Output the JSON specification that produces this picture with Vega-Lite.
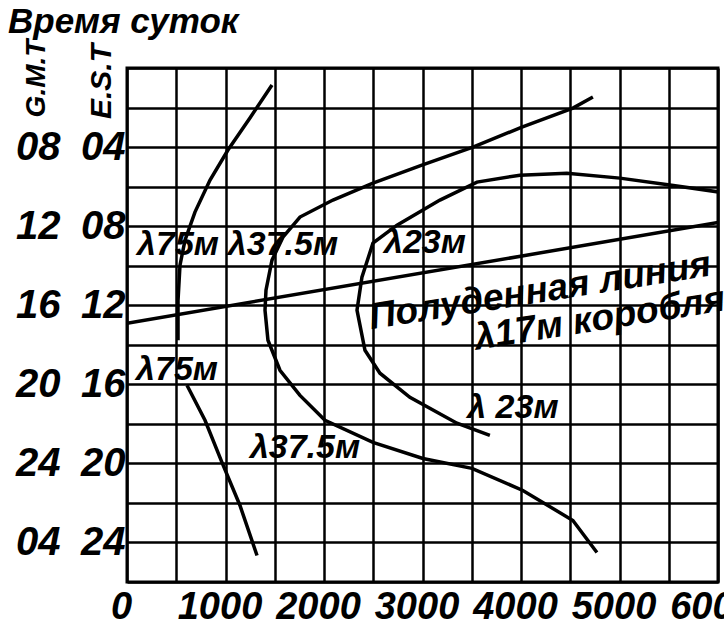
{
  "$schema": "https://vega.github.io/schema/vega-lite/v6.json",
  "width": 591,
  "height": 514,
  "autosize": "none",
  "padding": {"left": 127, "top": 68, "right": 6, "bottom": 44},
  "background": "white",
  "config": {
    "font": "Liberation Sans, sans-serif",
    "view": {"stroke": "black", "strokeWidth": 3}
  },
  "title": {
    "text": "Время суток",
    "anchor": "start",
    "frame": "group",
    "font": "Liberation Sans, sans-serif",
    "fontSize": 35,
    "fontStyle": "italic",
    "fontWeight": "bold",
    "color": "black",
    "dx": -119,
    "dy": 33,
    "baseline": "alphabetic"
  },
  "datasets": {
    "curves": [
      {"curve": "l75", "seg": "a", "i": 1, "d": 1472, "t": 0.86},
      {"curve": "l75", "seg": "a", "i": 2, "d": 1248, "t": 2.53},
      {"curve": "l75", "seg": "a", "i": 3, "d": 1025, "t": 4.15},
      {"curve": "l75", "seg": "a", "i": 4, "d": 843, "t": 5.67},
      {"curve": "l75", "seg": "a", "i": 5, "d": 690, "t": 7.29},
      {"curve": "l75", "seg": "a", "i": 6, "d": 589, "t": 8.71},
      {"curve": "l75", "seg": "a", "i": 7, "d": 538, "t": 9.97},
      {"curve": "l75", "seg": "a", "i": 8, "d": 518, "t": 11.75},
      {"curve": "l75", "seg": "a", "i": 9, "d": 518, "t": 13.77},
      {"curve": "l75", "seg": "b", "i": 1, "d": 609, "t": 16.05},
      {"curve": "l75", "seg": "b", "i": 2, "d": 792, "t": 17.82},
      {"curve": "l75", "seg": "b", "i": 3, "d": 964, "t": 19.95},
      {"curve": "l75", "seg": "b", "i": 4, "d": 1147, "t": 22.13},
      {"curve": "l75", "seg": "b", "i": 5, "d": 1320, "t": 24.66},
      {"curve": "l37", "seg": "a", "i": 1, "d": 4730, "t": 1.47},
      {"curve": "l37", "seg": "a", "i": 2, "d": 4527, "t": 2.03},
      {"curve": "l37", "seg": "a", "i": 3, "d": 4009, "t": 2.99},
      {"curve": "l37", "seg": "a", "i": 4, "d": 3512, "t": 4.0},
      {"curve": "l37", "seg": "a", "i": 5, "d": 2994, "t": 4.91},
      {"curve": "l37", "seg": "a", "i": 6, "d": 2497, "t": 5.82},
      {"curve": "l37", "seg": "a", "i": 7, "d": 2091, "t": 6.68},
      {"curve": "l37", "seg": "a", "i": 8, "d": 1756, "t": 7.54},
      {"curve": "l37", "seg": "a", "i": 9, "d": 1583, "t": 8.56},
      {"curve": "l37", "seg": "a", "i": 10, "d": 1472, "t": 9.72},
      {"curve": "l37", "seg": "a", "i": 11, "d": 1411, "t": 11.24},
      {"curve": "l37", "seg": "a", "i": 12, "d": 1401, "t": 12.25},
      {"curve": "l37", "seg": "a", "i": 13, "d": 1431, "t": 13.77},
      {"curve": "l37", "seg": "a", "i": 14, "d": 1553, "t": 15.29},
      {"curve": "l37", "seg": "a", "i": 15, "d": 1756, "t": 16.56},
      {"curve": "l37", "seg": "a", "i": 16, "d": 2010, "t": 17.82},
      {"curve": "l37", "seg": "a", "i": 17, "d": 2497, "t": 18.94},
      {"curve": "l37", "seg": "a", "i": 18, "d": 3004, "t": 19.75},
      {"curve": "l37", "seg": "a", "i": 19, "d": 3502, "t": 20.25},
      {"curve": "l37", "seg": "a", "i": 20, "d": 4019, "t": 21.37},
      {"curve": "l37", "seg": "a", "i": 21, "d": 4527, "t": 22.89},
      {"curve": "l37", "seg": "a", "i": 22, "d": 4771, "t": 24.51},
      {"curve": "l23", "seg": "a", "i": 1, "d": 6019, "t": 6.28},
      {"curve": "l23", "seg": "a", "i": 2, "d": 5511, "t": 5.92},
      {"curve": "l23", "seg": "a", "i": 3, "d": 5004, "t": 5.57},
      {"curve": "l23", "seg": "a", "i": 4, "d": 4466, "t": 5.32},
      {"curve": "l23", "seg": "a", "i": 5, "d": 3989, "t": 5.42},
      {"curve": "l23", "seg": "a", "i": 6, "d": 3553, "t": 5.77},
      {"curve": "l23", "seg": "a", "i": 7, "d": 3177, "t": 6.68},
      {"curve": "l23", "seg": "a", "i": 8, "d": 2741, "t": 7.95},
      {"curve": "l23", "seg": "a", "i": 9, "d": 2497, "t": 8.86},
      {"curve": "l23", "seg": "a", "i": 10, "d": 2385, "t": 10.58},
      {"curve": "l23", "seg": "a", "i": 11, "d": 2335, "t": 12.25},
      {"curve": "l23", "seg": "a", "i": 12, "d": 2416, "t": 14.28},
      {"curve": "l23", "seg": "a", "i": 13, "d": 2568, "t": 15.44},
      {"curve": "l23", "seg": "a", "i": 14, "d": 2872, "t": 16.66},
      {"curve": "l23", "seg": "a", "i": 15, "d": 3350, "t": 17.97},
      {"curve": "l23", "seg": "a", "i": 16, "d": 3684, "t": 18.58},
      {"curve": "noon", "seg": "a", "i": 1, "d": 0, "t": 12.91},
      {"curve": "noon", "seg": "a", "i": 2, "d": 6000, "t": 7.82}
    ],
    "labels": [
      {"text": "λ75м", "d": 518, "t": 8.96},
      {"text": "λ37.5м", "d": 1583, "t": 8.96},
      {"text": "λ23м", "d": 3025, "t": 8.86},
      {"text": "λ75м", "d": 508, "t": 15.29},
      {"text": "λ 23м", "d": 3918, "t": 17.2},
      {"text": "λ37.5м", "d": 1807, "t": 19.24}
    ],
    "noonLabels": [
      {"text": "Полуденная линия", "d": 4192, "t": 11.3},
      {"text": "λ17м коробля", "d": 4800, "t": 12.7}
    ]
  },
  "encoding": {
    "x": {
      "field": "d",
      "type": "quantitative",
      "scale": {"domain": [0, 6000], "nice": false, "zero": false},
      "axis": {
        "values": [0, 500, 1000, 1500, 2000, 2500, 3000, 3500, 4000, 4500, 5000, 5500, 6000],
        "labelExpr": "datum.value % 1000 == 0 ? '' + datum.value : ''",
        "grid": true,
        "gridColor": "black",
        "gridOpacity": 1,
        "gridWidth": 2.5,
        "domain": false,
        "ticks": false,
        "title": null,
        "labelFontSize": 38,
        "labelFontStyle": "italic",
        "labelFontWeight": "bold",
        "labelColor": "black",
        "labelBaseline": "alphabetic",
        "labelPadding": 36,
        "labelOffset": -6,
        "labelFlush": false,
        "labelOverlap": false
      }
    }
  },
  "layer": [
    {
      "data": {"name": "curves"},
      "mark": {"type": "line", "color": "black", "strokeWidth": 3.5, "clip": true},
      "encoding": {
        "y": {
          "field": "t",
          "type": "quantitative",
          "scale": {"domain": [0, 26], "reverse": true, "nice": false, "zero": false},
          "axis": {
            "orient": "left",
            "values": [0, 2, 4, 6, 8, 10, 12, 14, 16, 18, 20, 22, 24, 26],
            "labelExpr": "(datum.value % 4 == 0 && datum.value >= 4 && datum.value <= 24) ? (datum.value < 10 ? '0' + datum.value : '' + datum.value) : ''",
            "grid": true,
            "gridColor": "black",
            "gridOpacity": 1,
            "gridWidth": 2.5,
            "domain": false,
            "ticks": false,
            "labelFontSize": 40,
            "labelFontStyle": "italic",
            "labelFontWeight": "bold",
            "labelColor": "black",
            "labelPadding": 2,
            "labelBaseline": "middle",
            "labelOverlap": false,
            "labelFlush": false,
            "title": "E.S.T",
            "titleFontSize": 30,
            "titleFontStyle": "italic",
            "titleFontWeight": "bold",
            "titleColor": "black",
            "titleAngle": 270,
            "titleAlign": "center",
            "titleBaseline": "middle",
            "titleX": -26,
            "titleY": 13
          }
        },
        "detail": {"field": "seg"},
        "color": {"field": "curve", "type": "nominal", "legend": null, "scale": {"range": ["black"]}},
        "order": {"field": "i", "type": "quantitative"}
      }
    },
    {
      "data": {"name": "labels"},
      "mark": {"type": "text", "fontSize": 34, "fontStyle": "italic", "fontWeight": "bold", "color": "black", "align": "center", "baseline": "middle"},
      "encoding": {
        "y": {"field": "t", "type": "quantitative", "scale": {"domain": [0, 26], "reverse": true, "nice": false, "zero": false}, "axis": null},
        "text": {"field": "text"}
      }
    },
    {
      "data": {"name": "noonLabels"},
      "mark": {"type": "text", "fontSize": 37, "fontStyle": "italic", "fontWeight": "bold", "color": "black", "align": "center", "baseline": "middle", "angle": -9},
      "encoding": {
        "y": {
          "field": "t",
          "type": "quantitative",
          "scale": {"domain": [0, 26], "reverse": true, "nice": false, "zero": false},
          "axis": {
            "orient": "left",
            "offset": 65,
            "values": [4, 8, 12, 16, 20, 24],
            "labelExpr": "datum.value == 4 ? '08' : datum.value == 8 ? '12' : datum.value == 12 ? '16' : datum.value == 16 ? '20' : datum.value == 20 ? '24' : '04'",
            "grid": false,
            "domain": false,
            "ticks": false,
            "labelFontSize": 40,
            "labelFontStyle": "italic",
            "labelFontWeight": "bold",
            "labelColor": "black",
            "labelPadding": 2,
            "labelBaseline": "middle",
            "labelOverlap": false,
            "labelFlush": false,
            "title": "G.M.T",
            "titleFontSize": 28,
            "titleFontStyle": "italic",
            "titleFontWeight": "bold",
            "titleColor": "black",
            "titleAngle": 270,
            "titleAlign": "center",
            "titleBaseline": "middle",
            "titleX": -26,
            "titleY": 10
          }
        },
        "text": {"field": "text"}
      }
    }
  ],
  "resolve": {"scale": {"y": "independent"}, "axis": {"y": "independent"}}
}
